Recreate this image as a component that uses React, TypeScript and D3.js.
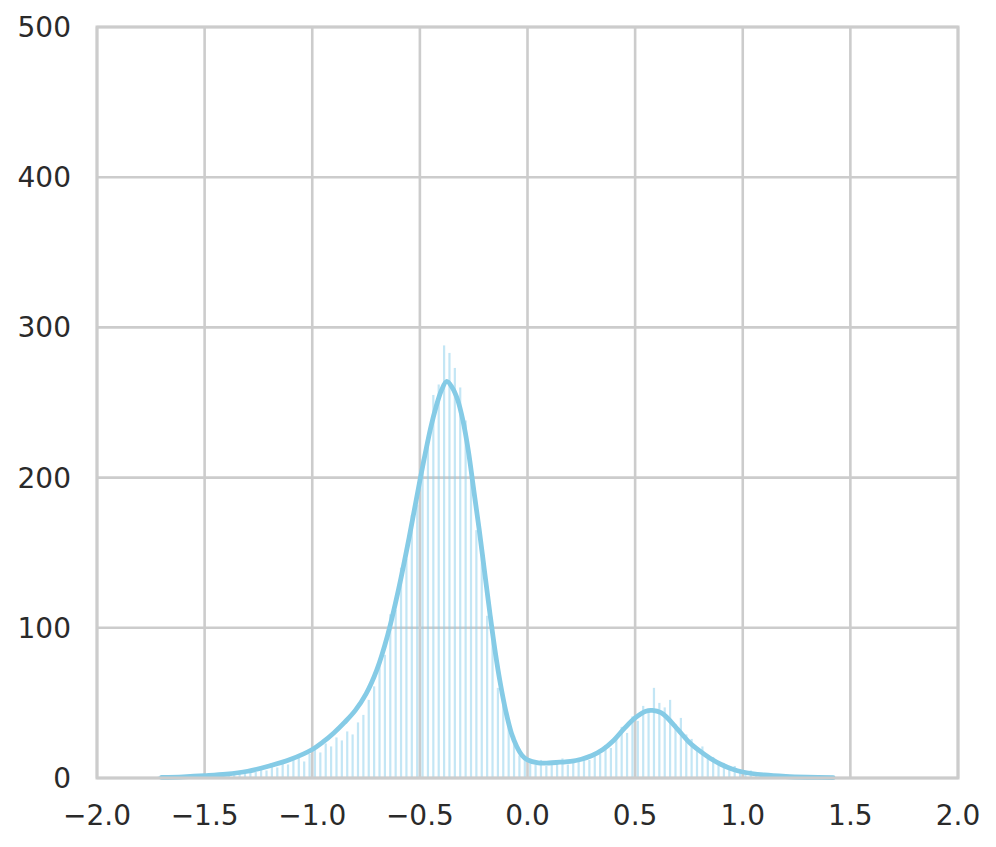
import React from "react";
import * as d3 from "d3";

const BIN_START = -1.75;
const BIN_WIDTH = 0.025;
const binCounts = [
  0, 1, 0, 1, 0, 1, 1, 0, 2, 1,
  2, 1, 3, 2, 2, 4, 3, 4, 5, 4,
  6, 5, 8, 7, 10, 9, 12, 14, 11, 16,
  19, 17, 23, 21, 27, 25, 31, 29, 37, 42,
  52, 61, 79, 82, 109, 112, 140, 146, 175, 182,
  212, 222, 255, 262, 288, 283, 273, 260, 238, 205,
  165, 150, 108, 92, 60, 55, 35, 28, 15, 12,
  10, 9, 12, 8, 11, 10, 13, 9, 12, 11,
  14, 12, 17, 16, 22, 20, 27, 34, 30, 41,
  38, 48, 44, 60, 50, 47, 52, 36, 40, 29,
  26, 18, 21, 13, 14, 9, 10, 6, 8, 5,
  4, 5, 3, 2, 3, 2, 1, 2, 1, 1,
  1, 0, 1, 0, 1, 0, 0, 0,
];

const kdeX = [
  -1.7, -1.6, -1.5, -1.4, -1.3, -1.2, -1.1, -1.0, -0.95, -0.9, -0.85, -0.8, -0.75, -0.7,
  -0.65, -0.6, -0.55, -0.5, -0.45, -0.425, -0.4, -0.375, -0.35, -0.325, -0.3, -0.275,
  -0.25, -0.225, -0.2, -0.175, -0.15, -0.125, -0.1, -0.075, -0.05, -0.025, 0, 0.05, 0.1,
  0.15, 0.2, 0.25, 0.3, 0.35, 0.4, 0.45, 0.5, 0.55, 0.58, 0.62, 0.65, 0.7, 0.75, 0.8,
  0.85, 0.9, 0.95, 1.0, 1.1, 1.2, 1.3, 1.42,
];
const kdeY = [
  0.4, 0.8, 1.5, 2.5, 4.5, 8, 12.5, 19, 24, 30, 37, 45, 56, 72,
  95, 125, 160, 198, 233, 247, 258, 264, 260, 252, 238, 218,
  192, 166, 138, 110, 84, 62, 44, 30, 21, 15, 12, 10, 10,
  10.5, 11, 12.5, 15, 19, 25, 33, 40, 44.5, 45, 43.5, 40, 32, 24, 18,
  13, 9, 6, 4, 2, 1, 0.5, 0.2,
];

const xTicks = [-2.0, -1.5, -1.0, -0.5, 0.0, 0.5, 1.0, 1.5, 2.0];
const yTicks = [0, 100, 200, 300, 400, 500];

const W = 996;
const H = 847;
const M = { left: 97, right: 38, top: 27, bottom: 69 };

export default function App() {
  const x = d3.scaleLinear().domain([-2, 2]).range([M.left, W - M.right]);
  const y = d3.scaleLinear().domain([0, 500]).range([H - M.bottom, M.top]);
  const line = d3
    .line<number>()
    .x((_, i) => x(kdeX[i]))
    .y((d) => y(d))
    .curve(d3.curveCatmullRom);
  const fmt = (v: number) => v.toFixed(1).replace("-", "\u2212");
  const grid = "#cccccc";
  const textColor = "#2a2a2a";
  const font = "DejaVu Sans, sans-serif";

  return (
    <svg
      width={W}
      height={H}
      style={{ position: "absolute", left: 0, top: 0, background: "#fff" }}
    >
      <rect x={0} y={0} width={W} height={H} fill="#fff" />
      {xTicks.map((t) => (
        <line key={"gx" + t} x1={x(t)} x2={x(t)} y1={y(0)} y2={y(500)} stroke={grid} strokeWidth={2.6} />
      ))}
      {yTicks.map((t) => (
        <line key={"gy" + t} x1={x(-2)} x2={x(2)} y1={y(t)} y2={y(t)} stroke={grid} strokeWidth={2.6} />
      ))}
      {binCounts.map((c, i) => {
        const cx = x(BIN_START + BIN_WIDTH * (i + 0.5));
        return (
          <rect
            key={"b" + i}
            x={cx - 1.1}
            width={2.2}
            y={y(c)}
            height={y(0) - y(c)}
            fill="#87ceeb"
            fillOpacity={0.5}
          />
        );
      })}
      <path d={line(kdeY) || ""} fill="none" stroke="#85cbe6" strokeWidth={4.8} strokeLinejoin="round" strokeLinecap="round" />
      <rect
        x={x(-2)}
        y={y(500)}
        width={x(2) - x(-2)}
        height={y(0) - y(500)}
        fill="none"
        stroke={grid}
        strokeWidth={3}
      />
      {yTicks.map((t) => (
        <text
          key={"ty" + t}
          x={71}
          y={y(t) + 10}
          textAnchor="end"
          fontFamily={font}
          fontSize={28}
          fill={textColor}
        >
          {t}
        </text>
      ))}
      {xTicks.map((t) => (
        <text
          key={"tx" + t}
          x={x(t)}
          y={825}
          textAnchor="middle"
          fontFamily={font}
          fontSize={28}
          fill={textColor}
        >
          {fmt(t)}
        </text>
      ))}
    </svg>
  );
}
